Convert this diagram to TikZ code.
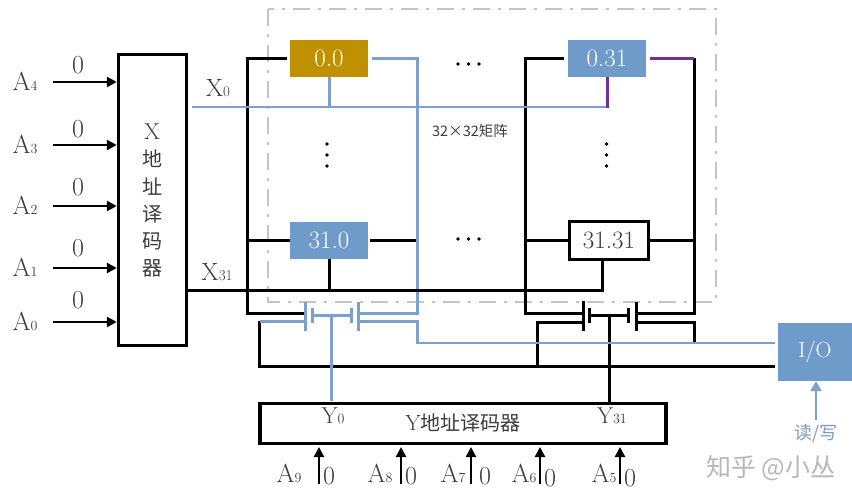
\documentclass[tikz,border=0pt]{standalone}
\usepackage{fontspec}
\newfontfamily\cjk{Noto Sans CJK SC}[Scale=1]
\usetikzlibrary{arrows.meta,calc}
\definecolor{wireblue}{HTML}{7BA0CD}
\definecolor{cellblue}{HTML}{6F9BCB}
\definecolor{gold}{HTML}{BF9000}
\definecolor{violetline}{HTML}{7030A0}
\definecolor{frame}{HTML}{C4C4C4}
\definecolor{ink}{HTML}{3C3C3C}
\newcommand{\fs}[1]{\fontsize{#1}{#1}\selectfont}
\newcommand{\lab}[2]{\fs{26}#1{\fs{14}#2}}
\newcommand{\labs}[2]{\fs{23}#1{\fs{14}#2}}
\tikzset{
  x=1pt,y=-1pt,
  blk/.style={draw=black,line width=3pt,line join=miter},
  blu/.style={draw=wireblue,line width=3pt,line join=miter},
  vio/.style={draw=violetline,line width=3pt},
  plate/.style={line width=3pt},
  cellbox/.style={minimum width=78pt,minimum height=37pt,inner sep=0pt,text=white,font=\fs{25}},
  decoder/.style={draw=black,line width=3.4pt,fill=white,inner sep=0pt,text=ink},
  txt/.style={inner sep=0pt,text=ink},
  zero/.style={inner sep=0pt,text=ink,font=\fs{26}},
  inarrow/.style={draw=black,line width=2.6pt,-{Triangle[length=10pt,width=10pt]}},
  dotm/.style={circle,fill=black,inner sep=0pt,minimum size=3.6pt},
}
\begin{document}
\begin{tikzpicture}
\useasboundingbox (0,0) rectangle (852,498);
% matrix frame
\draw[frame,line width=2.2pt,dash pattern=on 17pt off 8pt on 3pt off 8pt] (268,9) rectangle (716,302);
% cells
\node[cellbox,fill=gold] (c00) at (329,58) {0.0};
\node[cellbox,fill=cellblue] (c031) at (607,58) {0.31};
\node[cellbox,fill=cellblue] (c310) at (329,240.5) {31.0};
\node[draw=black,line width=3.4pt,fill=white,minimum width=79pt,minimum height=38pt,inner sep=0pt,text=ink,font=\fs{25}] (c3131) at (609,240.5) {31.31};
% decoders and I/O
\node[decoder,minimum width=68pt,minimum height=291pt] (xdec) at (152.5,200) {};
\node[decoder,minimum width=406pt,minimum height=40pt] (ydec) at (463,423.5) {};
\node[fill=cellblue,minimum width=74pt,minimum height=58pt,inner sep=0pt,text=white,font=\fs{22}] (io) at (815,352) {I/O};
% named junctions
\coordinate (t1a) at (305.5,313); \coordinate (t1b) at (305.5,321.5);
\coordinate (t1c) at (358,313);   \coordinate (t1d) at (358,321.5);
\coordinate (t1g) at (331,315.5);
\coordinate (t2a) at (583,313);   \coordinate (t2b) at (583,322);
\coordinate (t2c) at (636,313);   \coordinate (t2d) at (636,322);
\coordinate (t2g) at (609,315.5);
\coordinate (x0s) at (192,107);
\coordinate (x31s) at (186,290.5);
\coordinate (iobl) at (775,343);
\coordinate (iobk) at (775,366);
% black wiring
\draw[blk] (287,58) -| (247,313) -- (t1a);
\draw[blk] (247,240.5) -- (c310.west);
\draw[blk] (370,240.5) -- (416,240.5);
\draw[blk] (c310.south) -- (329,290.5);
\draw[blk] (x31s) -- (602,290.5) -- (602,261);
\draw[blk] (iobk) -- (259,366) -- (259,320.5);
\draw[blk] (564,58) -| (525,313) -- (t2a);
\draw[blk] (525,240.5) -- (c3131.west);
\draw[blk] (c3131.east) -- (694,240.5);
\draw[blk] (694,58) -- (694,313) -- (t2c);
\draw[blk] (t2b) -- (537,322) -- (537,366);
\draw[blk] (t2d) -- (694,322) -- (694,343);
\draw[blk] (t2g) -- (609,403);
% right transistor
\draw[black,plate] (583,301) -- (583,331);
\draw[black,plate] (589,308) -- (589,323);
\draw[black,plate] (589,315.5) -- (628,315.5);
\draw[black,plate] (628,308) -- (628,323);
\draw[black,plate] (636,302) -- (636,331);
% blue wiring
\draw[blu] (372,58) -- (417,58) -- (417,313) -- (t1c);
\draw[blu] (c00.south) -- (329,107);
\draw[draw=wireblue,line width=2.6pt] (x0s) -- (607,107);
\draw[blu] (t1b) -- (260,321.5);
\draw[blu] (t1d) -- (417,321.5) -- (417,343);
\draw[draw=wireblue,line width=2.6pt] (416,343) -- (iobl);
\draw[blu] (t1g) -- (331,401);
% redraw black crossing of X31 over the blue bit line
\draw[blk] (410,290.5) -- (424,290.5);
% left transistor
\draw[wireblue,plate] (305.5,302) -- (305.5,331);
\draw[wireblue,plate] (312,308) -- (312,323);
\draw[wireblue,plate] (312,315.5) -- (351,315.5);
\draw[wireblue,plate] (351,308) -- (351,323);
\draw[wireblue,plate] (358,302) -- (358,331);
% purple
\draw[vio] (650,58) -- (694,58);
\draw[vio] (c031.south) -- (607,108);
% read/write
\coordinate (rw) at (816,420);
\draw[draw=wireblue,line width=2.6pt,-{Triangle[length=10pt,width=11pt]}] (rw) -- (io.south -| rw);
\node[inner sep=0pt,text=wireblue!85!gray,font=\cjk\fs{18}] (rwt) at (816,434) {读/写};
% X decoder inputs
\foreach \n/\y/\zy in {4/82/65,3/145/129,2/206/187,1/268/248,0/322/300}{
  \coordinate (ax\n) at (53,\y);
  \draw[inarrow] (ax\n) -- (ax\n -| xdec.west);
  \node[txt] (la\n) at (25,\y-1) {\lab{A}{\n}};
  \node[zero] (z\n) at (78,\zy) {0};
}
% X decoder text
\node[txt,font=\fs{23}] (xl) at (152,132) {X};
\foreach \c/\y in {地/159,址/187,译/214,码/241,器/268}{
  \node[txt,font=\cjk\fs{20}] at (152,\y) {\c};
}
\node[txt] (x0l) at (218,88) {\fs{25}X{\fs{15}0}};
\node[txt] (x31l) at (217,272) {\fs{25}X{\fs{15}31}};
% Y decoder inputs
\foreach \n/\x/\lx/\zx/\zy in {9/319/289/329/476,8/401/380/411/476,7/471/453/485/476,6/540/524/550/478,5/620/604/630/478}{
  \coordinate (ay\n) at (\x,484);
  \draw[inarrow] (ay\n) -- (\x,447);
  \node[txt] (lay\n) at (\lx,473) {\lab{A}{\n}};
  \node[zero] (zy\n) at (\zx,\zy) {0};
}
\node[txt] (ytext) at (463,423) {\fs{22}Y{\cjk\fs{20}地址译码器}};
\node[txt] (y0l) at (333,416) {\labs{Y}{0}};
\node[txt] (y31l) at (612,416) {\labs{Y}{31}};
% matrix label and dots
\node[txt,font=\cjk\fs{14.5}] (mat) at (470,131) {32×32矩阵};
\foreach \x in {458,468.5,479}{
  \node[dotm] at (\x,64) {};
  \node[dotm] at (\x,239) {};
}
\foreach \x in {327,606.5}{
  \foreach \y in {144,155,166}{\node[dotm] at (\x,\y) {};}
}
% watermark
\node[inner sep=0pt,text=black!28,font=\cjk\fs{25}] (wm) at (771,468) {知乎 @小丛};
\end{tikzpicture}
\end{document}
